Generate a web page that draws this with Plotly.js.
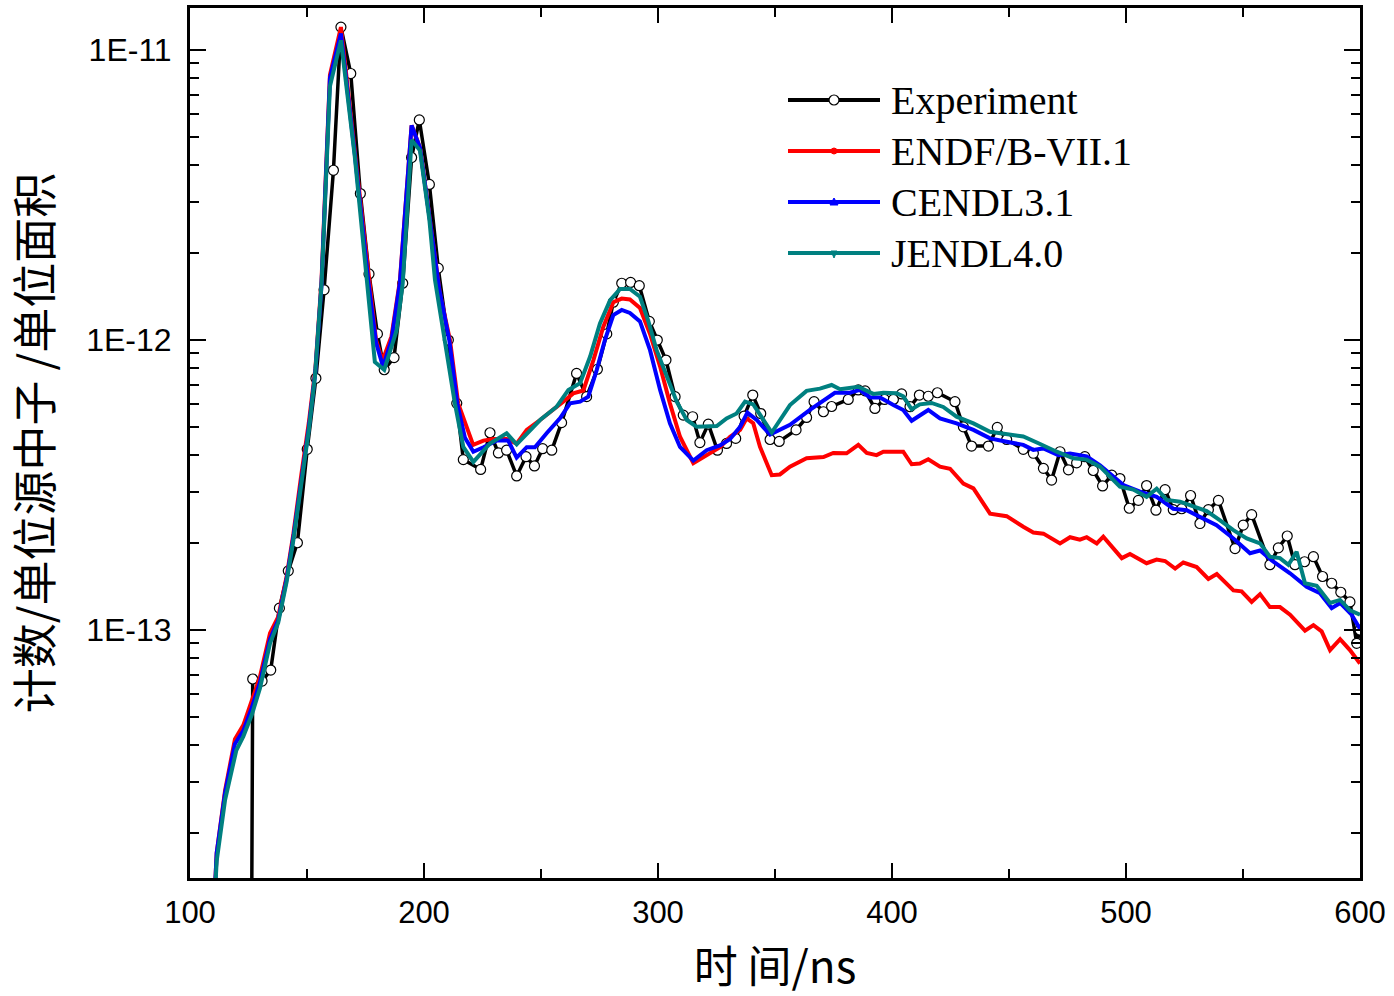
<!DOCTYPE html>
<html><head><meta charset="utf-8">
<script src="https://cdn.plot.ly/plotly-3.0.1.min.js"></script>
<style>html,body{margin:0;padding:0;background:#fff;}#chart{width:1394px;height:996px;}</style>
</head><body><div id="chart"></div>
<script>
// ---- data (time in ns, counts per source neutron per unit area) ----
const seriesNames = ['Experiment', 'ENDF/B-VII.1', 'CENDL3.1', 'JENDL4.0'];
const xTickVals = [100, 200, 300, 400, 500, 600];
const yTickVals = [1e-13, 1e-12, 1e-11];
const yTickText = ['1E-13', '1E-12', '1E-11'];

const tExp = [125.8,126.8,130.8,134.5,138.2,142.0,145.9,150.1,153.8,157.3,161.3,164.5,168.7,172.8,176.5,180.1,183.0,187.2,190.9,194.7,198.0,202.3,206.1,210.4,214.0,216.8,224.2,228.2,231.8,235.3,239.6,243.6,247.2,250.7,254.6,258.8,265.2,269.5,274.1,278.1,280.9,284.5,288.3,292.0,296.3,299.7,303.4,307.3,310.8,314.8,317.9,321.5,325.4,329.3,333.2,336.8,340.5,343.9,347.9,351.8,359.0,363.5,366.7,370.7,374.2,381.3,385.6,388.5,392.7,396.8,400.6,404.1,407.7,411.7,415.5,419.4,426.9,430.5,434.0,441.2,445.0,449.0,456.1,460.4,464.7,468.2,471.8,475.4,478.9,482.4,486.0,490.0,493.9,497.4,501.4,505.3,508.8,512.8,516.7,520.2,523.8,527.6,531.6,535.2,539.5,546.6,550.1,553.7,561.5,565.1,568.9,572.2,576.3,580.1,584.0,587.9,591.8,595.7,598.6,600.0];
const vExp = [1e-15,6.78e-14,6.67e-14,7.28e-14,1.19e-13,1.6e-13,2.0e-13,4.2e-13,7.38e-13,1.49e-12,3.85e-12,1.2e-11,8.3e-12,3.2e-12,1.69e-12,1.05e-12,7.9e-13,8.7e-13,1.57e-12,4.26e-12,5.74e-12,3.44e-12,1.77e-12,1.0e-12,6.05e-13,3.87e-13,3.58e-13,4.79e-13,4.08e-13,4.17e-13,3.4e-13,3.96e-13,3.68e-13,4.22e-13,4.17e-13,5.19e-13,7.67e-13,6.38e-13,7.93e-13,1.05e-12,1.35e-12,1.57e-12,1.58e-12,1.54e-12,1.16e-12,1.0e-12,8.53e-13,6.38e-13,5.51e-13,5.44e-13,4.43e-13,5.13e-13,4.17e-13,4.4e-13,4.58e-13,5.47e-13,6.46e-13,5.58e-13,4.54e-13,4.47e-13,4.9e-13,5.41e-13,6.13e-13,5.66e-13,5.9e-13,6.24e-13,6.73e-13,6.68e-13,5.81e-13,6.24e-13,6.24e-13,6.52e-13,5.89e-13,6.46e-13,6.4e-13,6.58e-13,6.13e-13,5.02e-13,4.31e-13,4.31e-13,5.0e-13,4.54e-13,4.2e-13,4.07e-13,3.61e-13,3.29e-13,4.12e-13,3.57e-13,3.77e-13,3.96e-13,3.55e-13,3.14e-13,3.42e-13,3.33e-13,2.63e-13,2.8e-13,3.15e-13,2.59e-13,3.05e-13,2.6e-13,2.62e-13,2.91e-13,2.33e-13,2.6e-13,2.8e-13,1.91e-13,2.3e-13,2.5e-13,1.68e-13,1.92e-13,2.11e-13,1.68e-13,1.72e-13,1.79e-13,1.53e-13,1.45e-13,1.35e-13,1.25e-13,9.0e-14,1.0e-13];

const tEndf = [110.6,111.4,115.0,119.2,122.8,126.4,129.9,134.2,137.7,141.3,144.2,147.5,150.8,153.6,156.2,159.8,164.5,170.4,176.2,179.5,182.3,186.1,189.7,194.7,198.3,202.5,206.8,211.1,214.6,221.0,225.4,229.6,235.3,239.6,243.9,249.6,255.3,259.5,263.8,268.1,272.4,276.6,280.9,284.5,288.0,292.3,296.6,300.9,305.1,309.4,315.1,320.8,326.5,330.8,335.1,337.9,340.7,343.6,348.6,352.1,356.4,363.5,370.7,374.9,380.6,385.6,389.2,393.4,396.3,404.8,408.4,411.9,415.5,420.5,424.8,430.5,434.8,441.9,449.0,456.1,460.4,464.7,471.8,476.1,480.3,483.2,487.5,490.3,498.2,501.7,508.8,513.1,516.7,521.0,524.5,530.2,535.2,538.8,545.9,549.4,553.7,557.3,561.5,565.8,570.1,576.5,580.1,583.6,587.2,591.5,595.7,600.0];
const vEndf = [1.25e-14,1.7e-14,2.8e-14,4.2e-14,4.7e-14,5.66e-14,6.9e-14,9.75e-14,1.11e-13,1.53e-13,2.15e-13,3.4e-13,5.2e-13,8.0e-13,1.6e-12,8.2e-12,1.2e-11,4.5e-12,1.66e-12,1.0e-12,8.5e-13,1.03e-12,1.6e-12,5.5e-12,4.6e-12,2.6e-12,1.45e-12,1.0e-12,6.05e-13,4.35e-13,4.5e-13,4.56e-13,4.56e-13,4.39e-13,4.9e-13,5.3e-13,5.74e-13,6.13e-13,6.55e-13,6.7e-13,8.53e-13,1.11e-12,1.35e-12,1.39e-12,1.38e-12,1.29e-12,1.05e-12,8.1e-13,6.05e-13,4.64e-13,3.76e-13,4.01e-13,4.27e-13,4.64e-13,4.9e-13,5.37e-13,5.17e-13,4.28e-13,3.42e-13,3.44e-13,3.66e-13,3.91e-13,3.95e-13,4.08e-13,4.07e-13,4.35e-13,4.08e-13,4.01e-13,4.12e-13,4.12e-13,3.73e-13,3.75e-13,3.88e-13,3.66e-13,3.6e-13,3.2e-13,3.08e-13,2.52e-13,2.47e-13,2.27e-13,2.17e-13,2.15e-13,1.99e-13,2.09e-13,2.05e-13,2.09e-13,1.99e-13,2.1e-13,1.77e-13,1.83e-13,1.7e-13,1.75e-13,1.73e-13,1.63e-13,1.71e-13,1.65e-13,1.5e-13,1.56e-13,1.37e-13,1.36e-13,1.25e-13,1.33e-13,1.2e-13,1.2e-13,1.13e-13,9.95e-14,1.04e-13,9.9e-14,8.53e-14,9.3e-14,8.53e-14,7.67e-14];

const tCendl = [110.6,111.4,115.0,119.2,122.8,126.4,129.9,134.2,137.7,141.3,144.2,147.5,150.8,153.6,156.2,159.8,164.5,170.4,176.2,179.5,182.5,186.1,189.7,194.7,198.3,202.5,206.5,210.8,214.3,217.5,221.1,225.4,231.0,236.0,239.6,243.9,247.4,252.4,258.1,262.4,266.7,270.2,273.8,277.3,280.9,284.5,288.0,292.3,296.6,300.9,305.1,309.4,315.1,320.8,326.5,330.8,335.1,338.2,342.2,347.9,356.4,364.9,370.7,375.6,382.0,386.3,390.6,394.9,400.6,404.8,408.4,411.9,415.5,420.5,427.6,434.8,441.9,449.0,456.1,460.4,464.7,471.1,476.1,483.2,488.9,498.9,506.0,513.1,520.2,525.9,531.6,538.7,545.9,553.0,557.3,563.0,570.1,577.2,582.9,587.9,591.5,596.4,600.0];
const vCendl = [1.25e-14,1.7e-14,2.75e-14,4.05e-14,4.5e-14,5.4e-14,6.6e-14,9.3e-14,1.08e-13,1.5e-13,2.1e-13,3.3e-13,5.0e-13,7.8e-13,1.55e-12,8.0e-12,1.14e-11,4.4e-12,1.6e-12,9.8e-13,8.1e-13,1.0e-12,1.58e-12,5.5e-12,4.6e-12,2.6e-12,1.5e-12,1.0e-12,6.0e-13,4.6e-13,4.12e-13,4.27e-13,4.5e-13,4.5e-13,3.93e-13,4.27e-13,4.27e-13,4.77e-13,5.37e-13,6.05e-13,6.13e-13,6.38e-13,7.88e-13,1.0e-12,1.22e-12,1.27e-12,1.24e-12,1.16e-12,9.23e-13,6.73e-13,5.16e-13,4.28e-13,3.84e-13,4.17e-13,4.33e-13,4.56e-13,5.02e-13,5.62e-13,5.3e-13,4.72e-13,5.1e-13,5.74e-13,6.21e-13,6.58e-13,6.58e-13,6.73e-13,6.34e-13,6.34e-13,5.97e-13,5.74e-13,5.27e-13,5.5e-13,5.74e-13,5.37e-13,5.16e-13,4.9e-13,4.58e-13,4.46e-13,4.35e-13,4.18e-13,4.23e-13,4.01e-13,4.06e-13,3.97e-13,3.7e-13,3.16e-13,3.0e-13,2.88e-13,2.62e-13,2.59e-13,2.46e-13,2.3e-13,2.07e-13,1.84e-13,1.88e-13,1.72e-13,1.57e-13,1.41e-13,1.34e-13,1.19e-13,1.24e-13,1.13e-13,1.01e-13];

const tJendl = [110.6,111.4,115.0,119.8,122.8,126.4,129.9,134.2,137.7,141.3,144.2,147.5,150.8,153.4,156.3,159.8,164.5,170.4,176.2,179.0,183.0,188.3,190.9,194.7,198.3,202.3,204.7,209.0,213.2,216.8,221.1,228.2,235.3,239.6,243.9,249.6,256.7,261.7,266.7,271.0,275.2,279.5,283.8,288.0,292.3,295.9,299.4,303.7,308.0,312.3,316.5,325.1,329.3,333.6,337.2,340.7,344.3,348.6,356.4,363.5,369.2,374.2,377.8,385.6,392.0,396.3,402.0,404.8,408.4,411.9,416.9,421.9,427.6,434.8,441.9,449.0,456.1,463.3,470.4,477.5,483.2,488.9,497.4,503.1,508.8,513.1,517.4,523.1,528.8,534.5,540.2,545.9,551.6,557.3,561.5,565.8,569.4,572.9,576.5,581.5,587.2,591.5,595.7,600.0];
const vJendl = [1.2e-14,1.6e-14,2.6e-14,3.85e-14,4.3e-14,5.1e-14,6.3e-14,9.0e-14,1.06e-13,1.47e-13,2.05e-13,3.2e-13,4.9e-13,7.5e-13,1.6e-12,7.5e-12,1.08e-11,4.3e-12,1.5e-12,8.4e-13,7.9e-13,1.08e-12,1.57e-12,4.9e-12,4.5e-12,2.6e-12,1.61e-12,1.0e-12,6.05e-13,4.28e-13,3.8e-13,4.4e-13,4.77e-13,4.37e-13,4.77e-13,5.3e-13,5.89e-13,6.73e-13,7.1e-13,8.77e-13,1.14e-12,1.37e-12,1.5e-12,1.5e-12,1.41e-12,1.16e-12,9.23e-13,7.48e-13,6.13e-13,5.3e-13,5.02e-13,5.05e-13,5.37e-13,5.58e-13,6.13e-13,6.0e-13,5.44e-13,4.8e-13,5.97e-13,6.68e-13,6.8e-13,7.0e-13,6.77e-13,6.9e-13,6.52e-13,6.58e-13,6.55e-13,6.4e-13,5.77e-13,6.0e-13,6.07e-13,5.88e-13,5.44e-13,5.16e-13,4.83e-13,4.73e-13,4.65e-13,4.38e-13,4.12e-13,3.91e-13,3.87e-13,3.66e-13,3.12e-13,3.05e-13,2.88e-13,3.07e-13,2.81e-13,2.77e-13,2.66e-13,2.57e-13,2.39e-13,2.21e-13,2.07e-13,1.99e-13,1.79e-13,1.77e-13,1.68e-13,1.86e-13,1.45e-13,1.42e-13,1.24e-13,1.27e-13,1.17e-13,1.13e-13];

// ---- styling ----
const colors = ['#000000', '#FF0000', '#0000FF', '#008080'];
const xTickFont = {family: 'Liberation Sans, Arial, sans-serif', size: 31, color: '#000'};
const yTickFont = {family: 'Liberation Sans, Arial, sans-serif', size: 32, color: '#000'};
const cjkFontY = {family: 'Noto Sans CJK SC, sans-serif', size: 45, color: '#000'};
const cjkFontX = {family: 'Noto Sans CJK SC, sans-serif', size: 44, color: '#000'};

const traces = [
  {x: tExp, y: vExp, name: seriesNames[0], type: 'scatter', mode: 'lines+markers',
   line: {color: colors[0], width: 3.5},
   marker: {symbol: 'circle', size: 10, color: '#fff', line: {color: '#000', width: 1.2}}},
  {x: tEndf, y: vEndf, name: seriesNames[1], type: 'scatter', mode: 'lines',
   line: {color: colors[1], width: 4}},
  {x: tCendl, y: vCendl, name: seriesNames[2], type: 'scatter', mode: 'lines',
   line: {color: colors[2], width: 4}},
  {x: tJendl, y: vJendl, name: seriesNames[3], type: 'scatter', mode: 'lines',
   line: {color: colors[3], width: 4}}
];

// custom legend (Origin style: long sample line with centred marker)
const legRowsPx = [100, 151, 202, 253];
const plotL = 190, plotW = 1170, plotB = 878, plotH = 870;
const px2x = p => (p - plotL) / plotW;
const px2y = p => (plotB - p) / plotH;
const shapes = [], annotations = [];
const lx0 = px2x(788), lx1 = px2x(880), lxc = px2x(834);
seriesNames.forEach((nm, i) => {
  const yy = px2y(legRowsPx[i]);
  shapes.push({type: 'line', xref: 'paper', yref: 'paper', x0: lx0, x1: lx1, y0: yy, y1: yy,
               line: {color: colors[i], width: 4}});
  if (i === 0) {
    shapes.push({type: 'circle', xref: 'paper', yref: 'paper', xsizemode: 'pixel', ysizemode: 'pixel',
      xanchor: lxc, yanchor: yy, x0: -5, x1: 5, y0: -5, y1: 5,
      fillcolor: '#fff', line: {color: '#000', width: 1.2}});
  } else if (i === 1) {
    shapes.push({type: 'circle', xref: 'paper', yref: 'paper', xsizemode: 'pixel', ysizemode: 'pixel',
      xanchor: lxc, yanchor: yy, x0: -3, x1: 3, y0: -3, y1: 3,
      fillcolor: colors[1], line: {color: colors[1], width: 1}});
  } else if (i === 2) {
    shapes.push({type: 'path', xref: 'paper', yref: 'paper', xsizemode: 'pixel', ysizemode: 'pixel',
      xanchor: lxc, yanchor: yy, path: 'M-4,-3 L4,-3 L0,4 Z',
      fillcolor: colors[2], line: {color: colors[2], width: 1}});
  } else {
    shapes.push({type: 'path', xref: 'paper', yref: 'paper', xsizemode: 'pixel', ysizemode: 'pixel',
      xanchor: lxc, yanchor: yy, path: 'M-3,2 L3,2 L0,-5 Z',
      fillcolor: colors[3], line: {color: colors[3], width: 1}});
  }
  annotations.push({xref: 'paper', yref: 'paper', x: px2x(889), y: yy, xanchor: 'left', yanchor: 'middle',
    text: nm, showarrow: false,
    font: {family: 'Liberation Serif, Times New Roman, serif', size: 40, color: '#000'}});
});

const layout = {
  width: 1394, height: 996,
  margin: {l: 190, r: 34, t: 8, b: 118},
  paper_bgcolor: '#fff', plot_bgcolor: '#fff',
  showlegend: false,
  xaxis: {
    range: [100, 600], tickvals: xTickVals, ticks: 'inside', ticklen: 15, tickwidth: 2.5,
    tickcolor: '#000', showline: true, linewidth: 3, linecolor: '#000', mirror: 'ticks',
    showgrid: false, zeroline: false, tickfont: xTickFont, ticklabelstandoff: 5,
    minor: {dtick: 50, tick0: 100, ticks: 'inside', ticklen: 9, tickwidth: 2, tickcolor: '#000', showgrid: false},
    title: {text: '时 间/ns', font: cjkFontX, standoff: 34}
  },
  yaxis: {
    type: 'log', range: [-13.855, -10.855], tickvals: yTickVals, ticktext: yTickText,
    ticks: 'inside', ticklen: 16, tickwidth: 2.5, tickcolor: '#000',
    showline: true, linewidth: 3, linecolor: '#000', mirror: 'ticks',
    showgrid: false, zeroline: false, tickfont: yTickFont, ticklabelstandoff: 9,
    minor: {dtick: 'D1', ticks: 'inside', ticklen: 9, tickwidth: 2, tickcolor: '#000', showgrid: false},
    title: {text: '计数/单位源中子 /单位面积', font: cjkFontY, standoff: 24}
  },
  shapes: shapes,
  annotations: annotations
};

Plotly.newPlot('chart', traces, layout, {displayModeBar: false, staticPlot: true});
</script>
</body></html>
